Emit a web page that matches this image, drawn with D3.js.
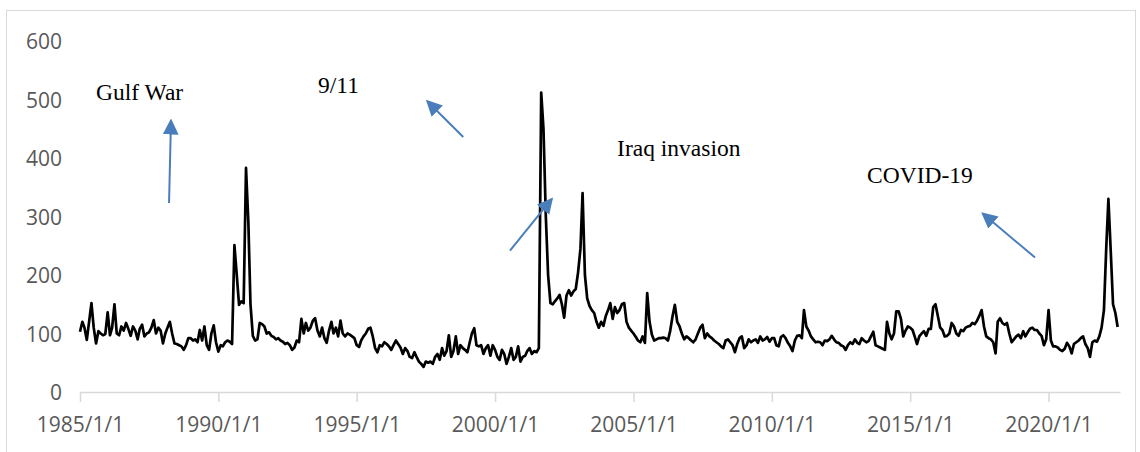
<!DOCTYPE html>
<html><head><meta charset="utf-8">
<script src="https://cdn.jsdelivr.net/npm/d3@7"></script>
<style>html,body{margin:0;padding:0;background:#fff;} svg{display:block;}</style>
</head><body><svg id="chart" width="1140" height="452"></svg>
<script>
// ---- data ----
const startYear = 1985; // monthly series starting January 1985
const gprValues = [
  // 1985
  103, 120, 110, 89, 120, 152, 110, 83, 104, 100, 97, 99,
  // 1986
  136, 97, 110, 150, 100, 97, 112, 105, 118, 108, 96, 112,
  // 1987
  105, 90, 108, 115, 95, 100, 102, 110, 123, 100, 110, 105,
  // 1988
  83, 100, 110, 120, 100, 83, 82, 80, 78, 72, 80, 92,
  // 1989
  92, 88, 90, 85, 106, 88, 112, 80, 72, 100, 114, 85,
  // 1990
  69, 80, 78, 85, 88, 86, 82, 251, 200, 149, 155, 152,
  // 1991
  383, 290, 150, 96, 88, 90, 118, 116, 112, 100, 102, 96,
  // 1992
  94, 90, 92, 88, 86, 82, 84, 80, 72, 76, 88, 85,
  // 1993
  125, 100, 118, 105, 110, 122, 126, 105, 95, 110, 92, 84,
  // 1994
  105, 120, 100, 110, 95, 122, 100, 95, 100, 98, 95, 92,
  // 1995
  80, 77, 88, 95, 100, 108, 110, 95, 75, 68, 80, 78,
  // 1996
  85, 82, 78, 72, 80, 88, 82, 76, 65, 75, 70, 60,
  // 1997
  58, 68, 60, 52, 48, 43, 52, 50, 52, 48, 60, 65,
  // 1998
  55, 75, 62, 70, 97, 60, 70, 95, 65, 80, 75, 72,
  // 1999
  68, 85, 100, 109, 80, 78, 80, 65, 75, 80, 62, 80,
  // 2000
  72, 60, 55, 72, 65, 48, 60, 75, 55, 60, 78, 52,
  // 2001
  60, 62, 70, 75, 65, 70, 68, 75, 512, 450, 300, 200,
  // 2002
  152, 150, 155, 160, 166, 150, 127, 165, 174, 165, 172, 176,
  // 2003
  205, 245, 340, 200, 160, 147, 140, 135, 120, 110, 120, 113,
  // 2004
  130, 140, 152, 125, 145, 135, 140, 150, 152, 120, 110, 105,
  // 2005
  100, 94, 88, 85, 95, 84, 169, 120, 98, 88, 90, 92,
  // 2006
  92, 93, 92, 88, 105, 130, 149, 120, 112, 100, 90, 95,
  // 2007
  92, 88, 85, 90, 100, 110, 115, 92, 100, 95, 92, 88,
  // 2008
  85, 82, 78, 75, 88, 90, 85, 80, 68, 82, 92, 95,
  // 2009
  75, 80, 90, 85, 88, 90, 84, 95, 88, 90, 94, 86,
  // 2010
  92, 92, 80, 78, 94, 97, 92, 84, 78, 70, 88, 96,
  // 2011
  97, 92, 140, 112, 105, 95, 90, 85, 86, 85, 80, 88,
  // 2012
  87, 90, 96, 90, 85, 84, 80, 78, 72, 80, 85, 82,
  // 2013
  90, 84, 82, 92, 88, 85, 87, 95, 103, 80, 78, 76,
  // 2014
  74, 72, 120, 100, 90, 100, 138, 138, 125, 95, 105, 112,
  // 2015
  110, 106, 95, 82, 95, 100, 104, 96, 108, 108, 145, 150,
  // 2016
  130, 110, 106, 95, 96, 100, 118, 112, 100, 96, 106, 104,
  // 2017
  110, 112, 113, 118, 116, 122, 130, 140, 112, 95, 92, 90,
  // 2018
  85, 66, 120, 126, 118, 115, 118, 100, 85, 90, 95, 98,
  // 2019
  92, 104, 95, 102, 108, 110, 106, 106, 100, 96, 80, 90,
  // 2020
  140, 88, 78, 78, 76, 72, 70, 74, 84, 78, 66, 82,
  // 2021
  85, 88, 92, 95, 82, 75, 60, 85, 88, 86, 95, 110,
  // 2022
  140, 248, 330, 240, 150, 135, 111
];
const yTicks = [0, 100, 200, 300, 400, 500, 600];
const xTickYears = [1985, 1990, 1995, 2000, 2005, 2010, 2015, 2020];
const xTickLabels = ["1985/1/1", "1990/1/1", "1995/1/1", "2000/1/1", "2005/1/1", "2010/1/1", "2015/1/1", "2020/1/1"];
const annotationLabels = ["Gulf War", "9/11", "Iraq invasion", "COVID-19"];
// label anchor [decimal year, value], arrow tail and tip [decimal year, value]
const labelAt  = [[1985.58, 499], [1993.60, 511], [2004.41, 403], [2013.44, 357]];
const arrowFrom = [[1988.22, 323], [1998.85, 436], [2000.54, 241.5], [2019.51, 230]];
const arrowTo   = [[1988.29, 464], [1997.55, 497], [2002.05, 330], [2017.62, 305]];

// ---- drawing ----
const svg = d3.select("#chart");
const yd = v => { const yr = Math.floor(v); return new Date(yr, 0, 1 + Math.round((v - yr) * 365)); };

svg.append("rect").attr("x", 6.5).attr("y", 10.5).attr("width", 1129).attr("height", 452)
  .attr("fill", "#fff").attr("stroke", "#d9d9d9").attr("stroke-width", 1);

const x = d3.scaleTime().domain([new Date(1985, 0, 1), new Date(2022, 7, 1)]).range([80, 1120]);
const y = d3.scaleLinear().domain([0, 600]).range([392, 41]);

// y axis labels
const ya = svg.append("g").attr("transform", "translate(80,0)")
  .call(d3.axisLeft(y).tickValues(yTicks).tickSize(0).tickPadding(18));
ya.select(".domain").remove();
ya.selectAll("text").attr("fill", "#595959").style("font-family", "'Open Sans', sans-serif")
  .style("font-size", "21px").attr("dy", "0.36em");

// x axis
const xa = svg.append("g").attr("transform", "translate(0,392)")
  .call(d3.axisBottom(x).tickValues(xTickYears.map(v => new Date(v, 0, 1)))
    .tickFormat((d, i) => xTickLabels[i]).tickSize(10).tickSizeOuter(0).tickPadding(15));
xa.select(".domain").attr("stroke", "#d9d9d9").attr("stroke-width", 1.5);
xa.selectAll(".tick line").attr("stroke", "#d9d9d9").attr("stroke-width", 1.5);
xa.selectAll("text").attr("fill", "#595959").style("font-family", "'Open Sans', sans-serif")
  .style("font-size", "21px");

// line
const line = d3.line().x((d, i) => x(new Date(startYear, i, 1))).y(d => y(d));
svg.append("path").datum(gprValues).attr("d", line).attr("fill", "none")
  .attr("stroke", "#000").attr("stroke-width", 2.7).attr("stroke-linejoin", "round");

// arrows
svg.append("defs").append("marker").attr("id", "ah").attr("markerUnits", "userSpaceOnUse")
  .attr("viewBox", "0 -8 16 16").attr("refX", 14).attr("refY", 0)
  .attr("markerWidth", 16).attr("markerHeight", 16).attr("orient", "auto")
  .append("path").attr("d", "M0,-8L16,0L0,8Z").attr("fill", "#4a7ebb");

svg.append("g").selectAll("line").data(arrowFrom).join("line")
  .attr("x1", d => x(yd(d[0]))).attr("y1", d => y(d[1]))
  .attr("x2", (d, i) => x(yd(arrowTo[i][0]))).attr("y2", (d, i) => y(arrowTo[i][1]))
  .attr("stroke", "#4a7ebb").attr("stroke-width", 2).attr("marker-end", "url(#ah)");

// labels
svg.append("g").selectAll("text").data(annotationLabels).join("text")
  .attr("x", (d, i) => x(yd(labelAt[i][0]))).attr("y", (d, i) => y(labelAt[i][1]))
  .text(d => d).attr("fill", "#000")
  .style("font-family", "'Liberation Serif', 'Times New Roman', serif").style("font-size", "23.5px");
</script>
</body></html>
